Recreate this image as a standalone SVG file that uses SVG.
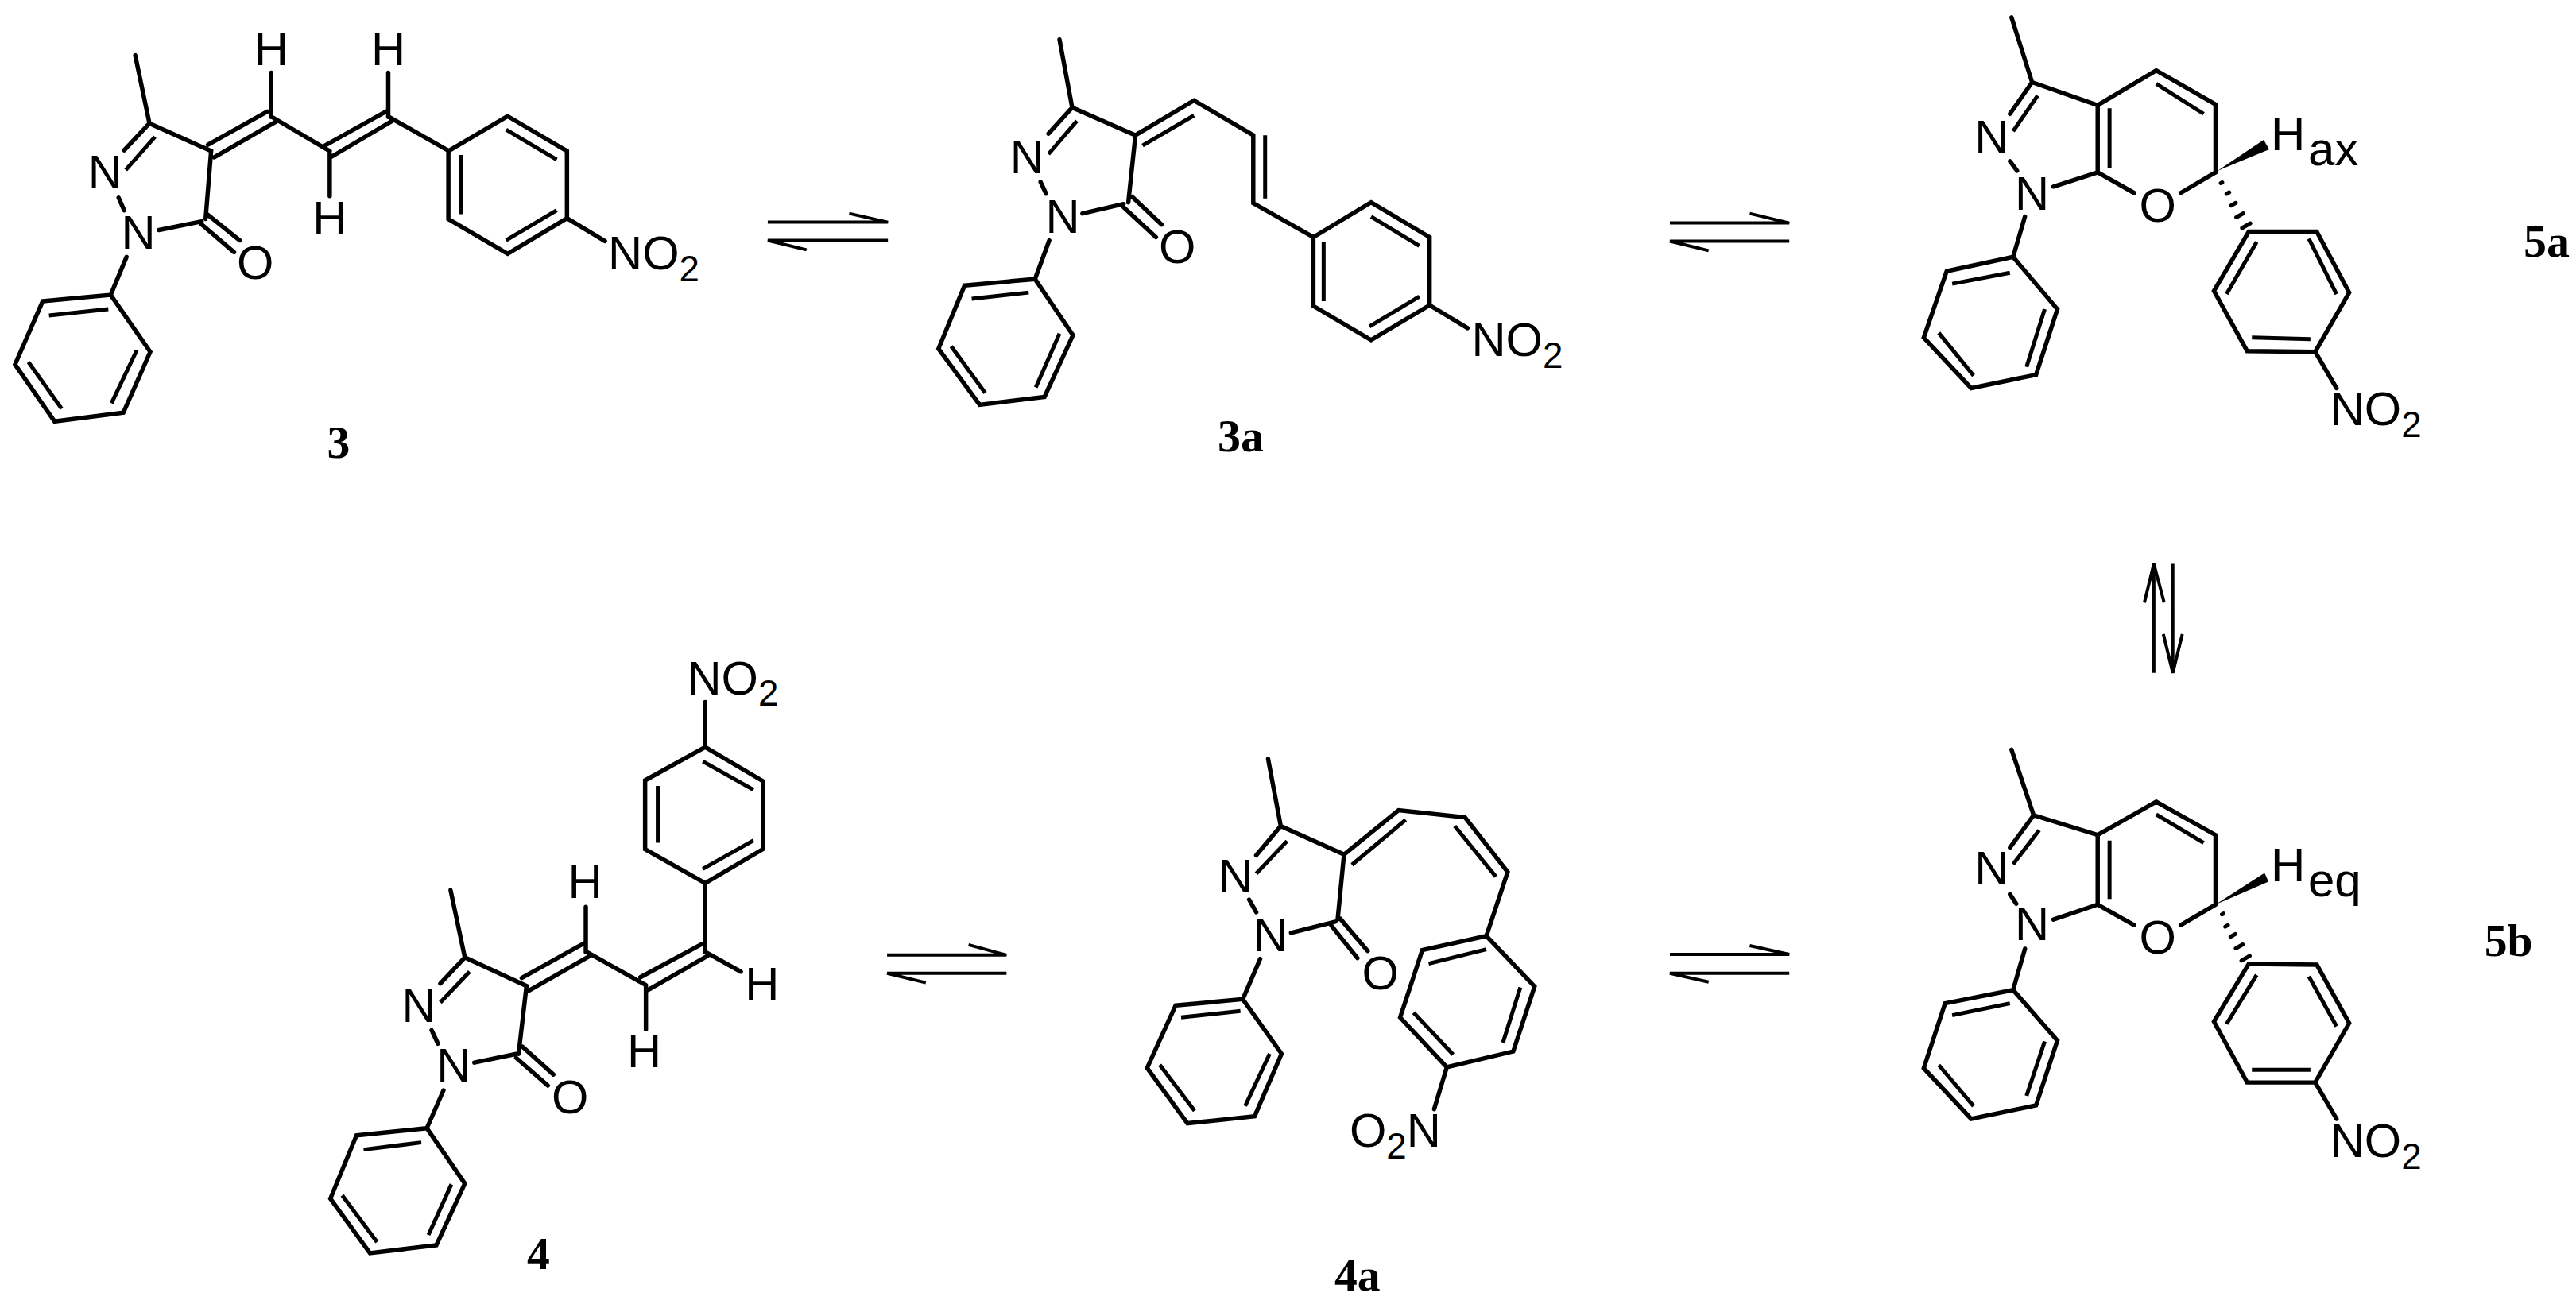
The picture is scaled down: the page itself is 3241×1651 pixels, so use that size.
<svg xmlns="http://www.w3.org/2000/svg" width="3241" height="1651" viewBox="0 0 3241 1651">
<style>
.b{fill:none;stroke:#000;stroke-width:5.5;stroke-linecap:round;stroke-linejoin:miter}
.i{fill:none;stroke:#000;stroke-width:5;stroke-linecap:butt}
.a{fill:none;stroke:#000;stroke-width:4;stroke-linecap:butt;stroke-linejoin:miter}
.h{fill:none;stroke:#000;stroke-width:5;stroke-linecap:round}
.t{font-family:"Liberation Sans",Arial,sans-serif;font-size:60px;fill:#000}
.c{text-anchor:middle}
.s{font-size:46px}
.l{font-family:"Liberation Serif","Times New Roman",serif;font-weight:bold;font-size:58px;fill:#000}
</style>
<rect width="3241" height="1651" fill="#fff"/>
<g id="mol-3">
<g transform="matrix(.9949 0 0 .9949 0 0)">
<path class="b" d="M171 70L189 156L267 191L260 277M189 156L157 190M150 250L157 266M255 280L201 291M262 271L303 304M254 283L296 319M160 325L140 373M54 381L140 373L190 445L156 522L69 533L19 461ZM263 183L338 141M271 199L349 154M344 148L417 191M411 184L488 141M418 199L496 153M492 148L568 191M642 147L717 191V276L642 321L567 277V191ZM717 276L765 305M343 92V148M491 92V148M417 194V248"/>
<path class="i" d="M196 173L159 215M62 399L137 391M36 458L78 517M141 510L173 443M640 164L704 202M583 196V271M704 266L640 304"/>
<text class="t c" x="133" y="238">N</text>
<text class="t c" x="175" y="315">N</text>
<text class="t c" x="323" y="353">O</text>
<text class="t c" x="343" y="82">H</text>
<text class="t c" x="491" y="82">H</text>
<text class="t c" x="417" y="297">H</text>
<text class="t" x="769" y="341">NO<tspan class="s" dy="15">2</tspan></text>
<text class="l c" x="428" y="579">3</text>
</g>
</g>
<g id="mol-3a">
<g transform="matrix(.9949 0 0 .9949 4.85 0)">
<path class="b" d="M1335 50L1351 136L1431 171L1422 256M1351 136L1321 169M1311 230L1318 245M1416 258L1364 270M1427 249L1464 284M1416 262L1457 300M1322 304L1304 353M1215 361L1304 353L1352 424L1316 502L1234 512L1182 441ZM1431 171L1505 127L1580 171V257L1656 300M1729 256L1803 300V386L1729 430L1656 387V300ZM1803 386L1851 415"/>
<path class="i" d="M1357 153L1321 195M1224 378L1296 370M1198 438L1241 497M1305 490L1335 422M1440 184L1505 146M1595 171V251M1729 274L1790 311M1669 306V381M1790 375L1727 413"/>
<text class="t c" x="1294" y="219">N</text>
<text class="t c" x="1339" y="295">N</text>
<text class="t c" x="1484" y="333">O</text>
<text class="t" x="1856" y="450">NO<tspan class="s" dy="15">2</tspan></text>
</g>
<text class="l" x="1532" y="568">3a</text>
</g>
<g id="mol-5a">
<g transform="matrix(.9949 0 0 .9949 10.7 0)">
<path class="b" d="M2533 22L2559 104L2642 133V218M2559 104L2531 144M2531 204L2540 216M2642 218L2586 236M2642 218L2688 244M2747 244L2791 218M2642 133L2716 89L2791 132V218M2919 293L2960 370L2917 445L2831 444L2789 368L2833 293ZM2917 445L2944 491M2550 274L2535 325M2451 343L2535 325L2591 391L2564 474L2482 491L2422 427Z"/>
<path class="i" d="M2566 121L2535 166M2657 137V213M2716 106L2776 144M2843 306L2805 372M2909 302L2944 372M2837 427L2911 429M2458 359L2531 345M2441 421L2485 475M2552 464L2575 391"/>
<text class="t c" x="2508" y="194">N</text>
<text class="t c" x="2559" y="265">N</text>
<text class="t c" x="2718" y="280">O</text>
<text class="t" x="2936" y="538">NO<tspan class="s" dy="15">2</tspan></text>
</g>
<polygon points="2790,215 2848,176 2855,188"/>
<path class="h" d="M2794.1 230.5L2795.9 229.5M2801.3 244L2804.7 242M2807 258.7L2813 255.3M2813.6 273.5L2822.4 268.5M2820.8 287L2831.2 281"/>
<text class="t" x="2857" y="189">H</text>
<text class="t" x="2904" y="208">ax</text>
<text class="l" x="3175" y="323">5a</text>
</g>
<g id="mol-4">
<g transform="matrix(.9949 0 0 .9949 1.8 4)">
<path class="b" d="M568 1122L586 1207L664 1243L654 1329M586 1207L555 1240M544 1299L552 1316M651 1329L598 1340M659 1320L698 1355M651 1334L691 1369M559 1375L538 1423M449 1432L538 1423L586 1493L550 1571L466 1581L416 1512ZM658 1233L737 1189M667 1249L746 1204M740 1200L815 1242M808 1232L886 1190M818 1248L893 1205M890 1200V1113M963 1070V984L890 941L814 983V1070L890 1113ZM890 941V884M739 1143V1200M815 1242V1298M890 1200L935 1225"/>
<path class="i" d="M592 1225L555 1264M458 1450L531 1441M431 1508L475 1567M540 1558L569 1494M887 1095L951 1059M951 995L887 959M830 990V1062"/>
<text class="t c" x="528" y="1289">N</text>
<text class="t c" x="572" y="1364">N</text>
<text class="t c" x="719" y="1404">O</text>
<text class="t c" x="738" y="1132">H</text>
<text class="t c" x="813" y="1346">H</text>
<text class="t c" x="962" y="1261">H</text>
<text class="t" x="867" y="874">NO<tspan class="s" dy="15">2</tspan></text>
<text class="l c" x="679" y="1601">4</text>
</g>
</g>
<g id="mol-4a">
<g transform="matrix(.9949 0 0 .9949 6.6 4.8)">
<path class="b" d="M1597 955L1613 1040L1693 1076L1685 1158M1613 1040L1582 1077M1573 1133L1582 1149M1682 1161L1626 1175M1688 1157L1723 1198M1677 1166L1710 1207M1587 1208L1565 1259M1480 1267L1565 1259L1614 1328L1580 1407L1495 1416L1444 1346ZM1693 1076L1762 1020L1846 1029L1900 1098L1873 1179M1934 1243L1907 1325L1823 1345L1764 1282L1792 1197L1873 1179ZM1823 1345L1807 1398"/>
<path class="i" d="M1621 1059L1582 1100M1487 1282L1562 1274M1460 1342L1504 1400M1568 1394L1599 1328M1703 1089L1771 1032M1833 1040L1885 1104M1800 1214L1873 1196M1916 1244L1894 1314M1831 1329L1781 1276"/>
<text class="t c" x="1556" y="1124">N</text>
<text class="t c" x="1600" y="1198">N</text>
<text class="t c" x="1739" y="1247">O</text>
<text class="t" x="1700" y="1446">O<tspan class="s" dy="15">2</tspan><tspan dy="-15">N</tspan></text>
<text class="l c" x="1710" y="1628">4a</text>
</g>
</g>
<g id="mol-5b">
<g transform="matrix(.9949 0 0 .9949 10.7 3.1)">
<path class="b" d="M2533 945L2561 1028L2642 1053V1141M2561 1028L2531 1069M2531 1128L2539 1140M2642 1141L2586 1160M2642 1141L2688 1167M2747 1167L2791 1141M2642 1053L2716 1011L2791 1053V1141M2919 1217L2960 1291L2917 1366L2831 1366L2789 1289L2833 1216ZM2917 1366L2944 1412M2550 1197L2535 1249M2449 1266L2535 1249L2591 1313L2564 1395L2482 1412L2422 1348Z"/>
<path class="i" d="M2568 1047L2535 1090M2657 1060V1134M2716 1027L2776 1063M2843 1230L2805 1292M2909 1232L2944 1295M2837 1350H2911M2458 1281L2531 1266M2441 1344L2485 1396M2552 1383L2575 1314"/>
<polygon points="2791,1141 2853,1101 2858,1112"/>
<path class="h" d="M2799.1 1153.5L2800.9 1152.5M2803.3 1169L2806.7 1167M2810 1181.7L2816 1178.3M2816.6 1196.5L2825.4 1191.5M2823.8 1212L2834.2 1206"/>
<text class="t c" x="2508" y="1116">N</text>
<text class="t c" x="2559" y="1186">N</text>
<text class="t c" x="2718" y="1203">O</text>
<text class="t" x="2936" y="1460">NO<tspan class="s" dy="15">2</tspan></text>
<text class="l" x="3131" y="1206">5b</text>
</g>
<text class="t" x="2857" y="1109">H</text>
<text class="t" x="2904" y="1128">eq</text>
</g>
<g id="connectors">
<path class="a" d="M966 281H1118L1069 270M1118 304H966L1015 316" transform="matrix(.9949 0 0 .9949 4.85 0)"/>
<path class="a" d="M2101 282H2252L2202 270M2252 305H2101L2150 317" transform="matrix(.9949 0 0 .9949 10.7 0)"/>
<path class="a" d="M1120 1204H1271L1223 1191M1271 1227H1120L1169 1239" transform="matrix(.9949 0 0 .9949 1.8 4)"/>
<path class="a" d="M2101 1204H2252L2202 1193M2252 1228H2101L2150 1239" transform="matrix(.9949 0 0 .9949 10.7 3.1)"/>
<path class="a" d="M2713 848V710M2701 759L2713 710L2726 759M2737 710V848M2725 799L2737 848L2749 799" transform="matrix(.9949 0 0 .9949 10.7 3.1)"/>
</g>
</svg>
